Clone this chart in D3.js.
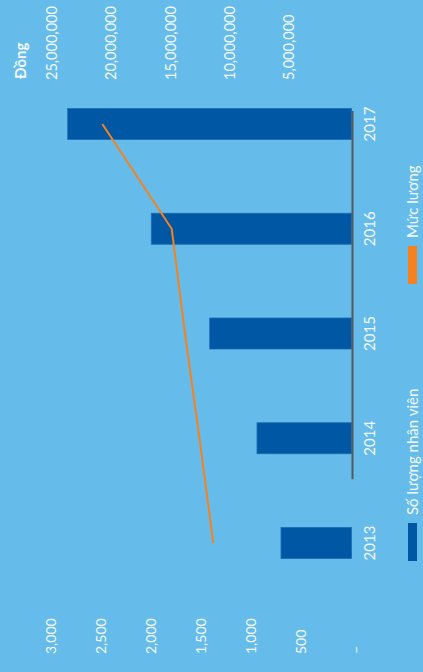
<!DOCTYPE html>
<html>
<head>
<meta charset="utf-8">
<script src="https://cdn.jsdelivr.net/npm/d3@7"></script>
<style>
  body { margin: 0; background: #65bceb; }
  text { font-family: Lato, "Open Sans", sans-serif; fill: #f4f9fd; }
</style>
</head>
<body>
<script>
// Bar = number of staff (left axis), line = salary level in Dong (right axis)
const years = ["2013", "2014", "2015", "2016", "2017"];
const staff = [705, 945, 1418, 2002, 2838];
const salary = [11400000, 12560000, 13780000, 14900000, 20740000];
const staffTicks = [0, 500, 1000, 1500, 2000, 2500, 3000];
const salaryTicks = [5000000, 10000000, 15000000, 20000000, 25000000];

const W = 423, H = 672;

const svg = d3.select("body").append("svg")
    .attr("width", W)
    .attr("height", H);

// the whole chart is drawn sideways, so build it in a rotated frame
const g = svg.append("g")
    .attr("transform", `translate(0,${H}) rotate(-90)`);

const x = d3.scalePoint().domain(years).range([129, 548]);
const yL = d3.scaleLinear().domain([0, 3000]).range([351.5, 51.5]);
const yR = d3.scaleLinear().domain([0, 25000000]).range([348.7, 51.7]);

const barW = 31;

g.selectAll("rect.bar")
    .data(years)
    .join("rect")
    .attr("class", "bar")
    .attr("x", d => x(d) - barW / 2)
    .attr("width", barW)
    .attr("y", (d, i) => yL(staff[i]))
    .attr("height", (d, i) => yL(0) - yL(staff[i]))
    .attr("fill", "#0057a4")
    .attr("stroke", "#1d6cb2")
    .attr("stroke-width", 0.8);

// baseline
g.append("line")
    .attr("x1", x("2014") - 41)
    .attr("x2", x("2017") + 13)
    .attr("y1", 352.5)
    .attr("y2", 352.5)
    .attr("stroke", "#595959")
    .attr("stroke-width", 2);

// salary line
const line = d3.line()
    .x((d, i) => x(years[i]))
    .y(d => yR(d));

g.append("path")
    .datum(salary)
    .attr("d", line)
    .attr("fill", "none")
    .attr("stroke", "#f5821f")
    .attr("stroke-width", 2);

// left axis labels
const fmt = d3.format(",");
g.selectAll("text.lt")
    .data(staffTicks)
    .join("text")
    .attr("class", "lt")
    .attr("x", 18)
    .attr("y", d => d === 0 ? yL(d) + 5 : yL(d))
    .attr("dy", "0.35em")
    .attr("font-size", 14)
    .text(d => d === 0 ? "–" : fmt(d));

// right axis labels
g.selectAll("text.rt")
    .data(salaryTicks)
    .join("text")
    .attr("class", "rt")
    .attr("x", 592)
    .attr("y", d => yR(d))
    .attr("dy", "0.35em")
    .attr("font-size", 14.5)
    .text(d => fmt(d));

g.append("text")
    .attr("x", 593)
    .attr("y", 21)
    .attr("dy", "0.35em")
    .attr("font-size", 15)
    .attr("font-weight", "bold")
    .text("Đồng");

// year labels
g.selectAll("text.yr")
    .data(years)
    .join("text")
    .attr("class", "yr")
    .attr("x", d => x(d))
    .attr("y", 370)
    .attr("dy", "0.35em")
    .attr("text-anchor", "middle")
    .attr("font-size", 15)
    .text(d => d);

// legend
const legend = [
  { label: "Số lượng nhân viên", color: "#0057a4", u: 111 },
  { label: "Mức lương", color: "#f5821f", u: 388 }
];

legend.forEach(l => {
  g.append("rect")
    .attr("x", l.u)
    .attr("y", 408)
    .attr("width", 38)
    .attr("height", 9)
    .attr("fill", l.color);
  g.append("text")
    .attr("x", l.u + 46)
    .attr("y", 413)
    .attr("dy", "0.35em")
    .attr("font-size", 15)
    .text(l.label);
});
</script>
</body>
</html>
